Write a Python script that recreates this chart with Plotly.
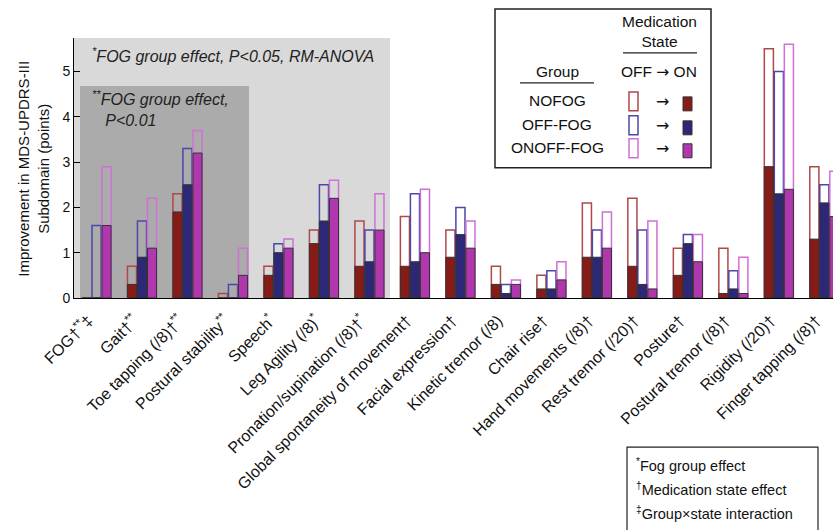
import plotly.graph_objects as go

categories = [
    "FOG†<sup>**</sup>‡", "Gait†<sup>**</sup>", "Toe tapping (/8)†<sup>**</sup>",
    "Postural stability<sup>**</sup>", "Speech<sup>*</sup>", "Leg Agility (/8)<sup>*</sup>",
    "Pronation/supination (/8)†<sup>*</sup>", "Global spontaneity of movement†",
    "Facial expression†", "Kinetic tremor (/8)", "Chair rise†", "Hand movements (/8)†",
    "Rest tremor (/20)†", "Posture†", "Postural tremor (/8)†", "Rigidity (/20)†",
    "Finger tapping (/8)†",
]
nofog_off = [0.0, 0.7, 2.3, 0.1, 0.7, 1.5, 1.7, 1.8, 1.5, 0.7, 0.5, 2.1, 2.2, 1.1, 1.1, 5.5, 2.9]
nofog_on = [0.0, 0.3, 1.9, 0.0, 0.5, 1.2, 0.7, 0.7, 0.9, 0.3, 0.2, 0.9, 0.7, 0.5, 0.1, 2.9, 1.3]
offfog_off = [1.6, 1.7, 3.3, 0.3, 1.2, 2.5, 1.5, 2.3, 2.0, 0.3, 0.6, 1.5, 1.5, 1.4, 0.6, 5.0, 2.5]
offfog_on = [0.0, 0.9, 2.5, 0.0, 1.0, 1.7, 0.8, 0.8, 1.4, 0.1, 0.2, 0.9, 0.3, 1.2, 0.2, 2.3, 2.1]
onoff_off = [2.9, 2.2, 3.7, 1.1, 1.3, 2.6, 2.3, 2.4, 1.7, 0.4, 0.8, 1.9, 1.7, 1.4, 0.9, 5.6, 2.8]
onoff_on = [1.6, 1.1, 3.2, 0.5, 1.1, 2.2, 1.5, 1.0, 1.1, 0.3, 0.4, 1.1, 0.2, 0.8, 0.1, 2.4, 1.8]

groups = [
    ("NOFOG", nofog_off, nofog_on, "#b04848", "#861b17", -0.32),
    ("OFF-FOG", offfog_off, offfog_on, "#4a48a8", "#2c2877", -0.10),
    ("ONOFF-FOG", onoff_off, onoff_on, "#d070d6", "#b037ad", 0.12),
]

FONT = "Liberation Sans, Arial, Helvetica, sans-serif"
fig = go.Figure()
for name, off, on, lc, fc, off_x in groups:
    fig.add_trace(go.Bar(x=categories, y=off, name=name + " OFF", offset=off_x, width=0.2,
                         marker=dict(color="rgba(0,0,0,0)", line=dict(color=lc, width=1.5)),
                         showlegend=False))
for name, off, on, lc, fc, off_x in groups:
    fig.add_trace(go.Bar(x=categories, y=on, name=name + " ON", offset=off_x, width=0.2,
                         marker=dict(color=fc, line=dict(color="#333333", width=1)),
                         showlegend=False))

W, H = 833, 530
L, R, T, B = 74, 0, 38, 231.5
pw = W - L - R
ph = H - T - B


def px(x):
    return (x - L) / pw


def py(y):
    return (H - B - y) / ph


shapes = [
    # shaded significance regions
    dict(type="rect", xref="paper", yref="paper", x0=0, x1=px(390), y0=0, y1=1,
         fillcolor="#d9d9d9", line=dict(width=0), layer="below"),
    dict(type="rect", xref="paper", yref="paper", x0=px(80), x1=px(249), y0=0, y1=py(86),
         fillcolor="#ababab", line=dict(width=0), layer="below"),
    # legend box
    dict(type="rect", xref="paper", yref="paper", x0=px(495), x1=px(711), y0=py(168), y1=py(9),
         line=dict(color="#222", width=1.5), fillcolor="white"),
    dict(type="line", xref="paper", yref="paper", x0=px(623), x1=px(697), y0=py(53), y1=py(53),
         line=dict(color="#222", width=1.2)),
    dict(type="line", xref="paper", yref="paper", x0=px(520), x1=px(594), y0=py(83), y1=py(83),
         line=dict(color="#222", width=1.2)),
    # footnote box
    dict(type="rect", xref="paper", yref="paper", x0=px(627), x1=px(818), y0=py(560), y1=py(448),
         line=dict(color="#222", width=1.2), fillcolor="white"),
]
annotations = [
    dict(text="<i><sup>*</sup>FOG group effect, P&lt;0.05, RM-ANOVA</i>", x=px(90), y=py(55),
         xref="paper", yref="paper", xanchor="left", yanchor="middle", showarrow=False,
         font=dict(family=FONT, size=16, color="#222")),
    dict(text="<i><sup>**</sup>FOG group effect,<br>   P&lt;0.01</i>", x=px(90), y=py(109),
         xref="paper", yref="paper", xanchor="left", yanchor="middle", align="left",
         showarrow=False, font=dict(family=FONT, size=16, color="#222")),
    dict(text="Improvement in MDS-UPDRS-III<br>Subdomain (points)", x=px(34), y=py(169),
         xref="paper", yref="paper", textangle=-90, xanchor="center", yanchor="middle",
         showarrow=False, font=dict(family=FONT, size=15, color="#111")),
    dict(text="Medication<br>State", x=px(659), y=py(31), xref="paper", yref="paper",
         xanchor="center", yanchor="middle", showarrow=False,
         font=dict(family=FONT, size=15.5, color="#111")),
    dict(text="Group", x=px(557), y=py(72), xref="paper", yref="paper",
         xanchor="center", yanchor="middle", showarrow=False,
         font=dict(family=FONT, size=15.5, color="#111")),
    dict(text="OFF <span style='font-family:DejaVu Sans'>→</span> ON", x=px(659), y=py(72),
         xref="paper", yref="paper", xanchor="center", yanchor="middle", showarrow=False,
         font=dict(family=FONT, size=15.5, color="#111")),
]
row_y = [101, 125, 148]
for (name, off, on, lc, fc, off_x), ry in zip(groups, row_y):
    annotations.append(dict(text=name, x=px(557), y=py(ry), xref="paper", yref="paper",
                            xanchor="center", yanchor="middle", showarrow=False,
                            font=dict(family=FONT, size=15.5, color="#111")))
    annotations.append(dict(text="→", x=px(662), y=py(ry + 1), xref="paper", yref="paper",
                            xanchor="center", yanchor="middle", showarrow=False,
                            font=dict(family="DejaVu Sans", size=16, color="#111")))
    shapes.append(dict(type="rect", xref="paper", yref="paper", x0=px(629), x1=px(638),
                       y0=py(ry + 10), y1=py(ry - 9), line=dict(color=lc, width=1.5)))
    shapes.append(dict(type="rect", xref="paper", yref="paper", x0=px(683), x1=px(692),
                       y0=py(ry + 10), y1=py(ry - 4), fillcolor=fc, line=dict(color="#333", width=1)))

foot = ["<sup>*</sup>Fog group effect", "<sup>†</sup>Medication state effect",
        "<sup>‡</sup>Group×state interaction"]
for i, t in enumerate(foot):
    annotations.append(dict(text=t, x=px(634), y=py(466 + 24 * i), xref="paper", yref="paper",
                            xanchor="left", yanchor="middle", showarrow=False,
                            font=dict(family=FONT, size=14.5, color="#111")))

fig.update_layout(
    width=W, height=H, barmode="overlay",
    margin=dict(l=L, r=R, t=T, b=B, pad=0),
    plot_bgcolor="white", paper_bgcolor="white",
    font=dict(family=FONT, color="#111"),
    shapes=shapes, annotations=annotations,
    xaxis=dict(range=[-0.495, 16.19], tickangle=-45, showline=True, linecolor="black",
               linewidth=1, ticks="", showgrid=False, tickfont=dict(size=16, color="#111"),
               zeroline=False, ticklabelshift=-8, ticklabelstandoff=6),
    yaxis=dict(range=[0, 5.74], tickvals=[0, 1, 2, 3, 4, 5], ticks="inside", ticklen=6,
               tickcolor="black", showline=True, linecolor="black", linewidth=1, showgrid=False,
               zeroline=False, tickfont=dict(size=14, color="#111")),
)
fig.write_html("out.html", config={"displayModeBar": False},
               post_script="document.body.style.margin='0';document.body.style.overflow='hidden';")
